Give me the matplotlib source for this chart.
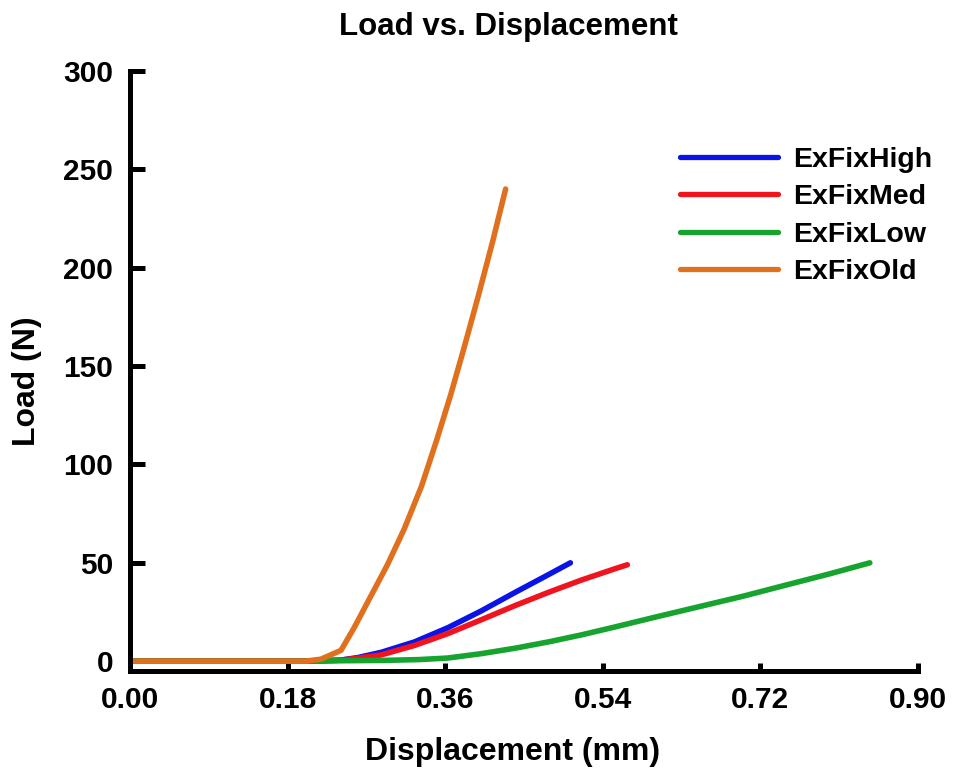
import matplotlib
matplotlib.use("Agg")
import matplotlib.pyplot as plt

# Data (displacement mm, load N)
high_x = [0.00, 0.10, 0.20, 0.24, 0.26, 0.287, 0.325, 0.363, 0.401, 0.440, 0.478, 0.503]
high_y = [0.0, 0.0, 0.0, 0.5, 1.8, 4.5, 9.8, 17.0, 25.5, 35.0, 44.0, 50.0]

med_x = [0.00, 0.10, 0.20, 0.24, 0.26, 0.287, 0.325, 0.363, 0.401, 0.440, 0.478, 0.516, 0.554, 0.568]
med_y = [0.0, 0.0, 0.0, 0.5, 1.5, 3.2, 8.0, 14.0, 21.0, 28.3, 35.0, 41.3, 47.0, 49.0]

low_x = [0.00, 0.10, 0.20, 0.24, 0.29, 0.33, 0.363, 0.401, 0.440, 0.478, 0.516, 0.554, 0.60, 0.65, 0.70, 0.745, 0.80, 0.845]
low_y = [0.0, 0.0, 0.0, 0.2, 0.4, 0.8, 1.6, 3.8, 6.6, 9.8, 13.4, 17.4, 22.4, 27.7, 33.0, 38.2, 44.5, 50.0]

old_x = [0.00, 0.10, 0.20, 0.218, 0.241, 0.256, 0.275, 0.294, 0.313, 0.333, 0.350, 0.366, 0.382, 0.398, 0.414, 0.429]
old_y = [0.0, 0.0, 0.0, 1.0, 5.5, 17.0, 33.0, 49.0, 67.0, 89.0, 112.0, 135.0, 160.0, 186.0, 213.0, 240.0]

labels = ["ExFixHigh", "ExFixMed", "ExFixLow", "ExFixOld"]
colors = ["#0a14e6", "#f0141e", "#16a32e", "#e0701e"]

x_ticks = [0.00, 0.18, 0.36, 0.54, 0.72, 0.90]
x_ticklabels = ["0.00", "0.18", "0.36", "0.54", "0.72", "0.90"]
y_ticks = [0, 50, 100, 150, 200, 250, 300]

plt.rcParams['font.family'] = ['Liberation Sans', 'DejaVu Sans']
plt.rcParams['font.weight'] = 'bold'

fig = plt.figure(figsize=(9.55, 7.76), dpi=100)
ax = fig.add_axes([130 / 955, 1 - 671 / 776, (918 - 130) / 955, (671 - 71) / 776])

series = [(high_x, high_y), (med_x, med_y), (low_x, low_y), (old_x, old_y)]
for (xs, ys), lab, col in zip(series, labels, colors):
    ax.plot(xs, ys, color=col, lw=4.0, label=lab, solid_capstyle='round', solid_joinstyle='round')

ax.set_xlim(0, 0.90)
ax.set_ylim(-5, 300)
ax.set_xticks(x_ticks)
ax.set_xticklabels(x_ticklabels)
ax.set_yticks(y_ticks)

for s in ['top', 'right']:
    ax.spines[s].set_visible(False)
for s in ['left', 'bottom']:
    ax.spines[s].set_linewidth(3.6)
    ax.spines[s].set_color('black')

ax.tick_params(axis='x', direction='in', length=6, width=3.6, labelsize=21.5, pad=11)
ax.tick_params(axis='y', direction='in', length=11, width=3.6, labelsize=21.5, pad=12)
for lbl in ax.get_xticklabels() + ax.get_yticklabels():
    lbl.set_fontweight('bold')

fig.text(508 / 955, 1 - 27 / 776, "Load vs. Displacement", ha='center', va='center',
         fontsize=22.5, fontweight='bold')

fig.text(513 / 955, 1 - 752 / 776, "Displacement (mm)", ha='center', va='center',
         fontsize=23, fontweight='bold')
fig.text(27 / 955, 1 - 381 / 776, "Load (N)", ha='center', va='center', rotation=90,
         fontsize=23, fontweight='bold')

leg = ax.legend(loc='upper left', bbox_to_anchor=(680 / 955, 1 - 147 / 776),
                bbox_transform=fig.transFigure, frameon=False,
                handlelength=3.45, handletextpad=0.52, labelspacing=0.4,
                borderpad=0, borderaxespad=0, prop={'weight': 'bold', 'size': 20.5})
for line in leg.get_lines():
    line.set_linewidth(3.8)

fig.savefig("out.png", dpi=100)
